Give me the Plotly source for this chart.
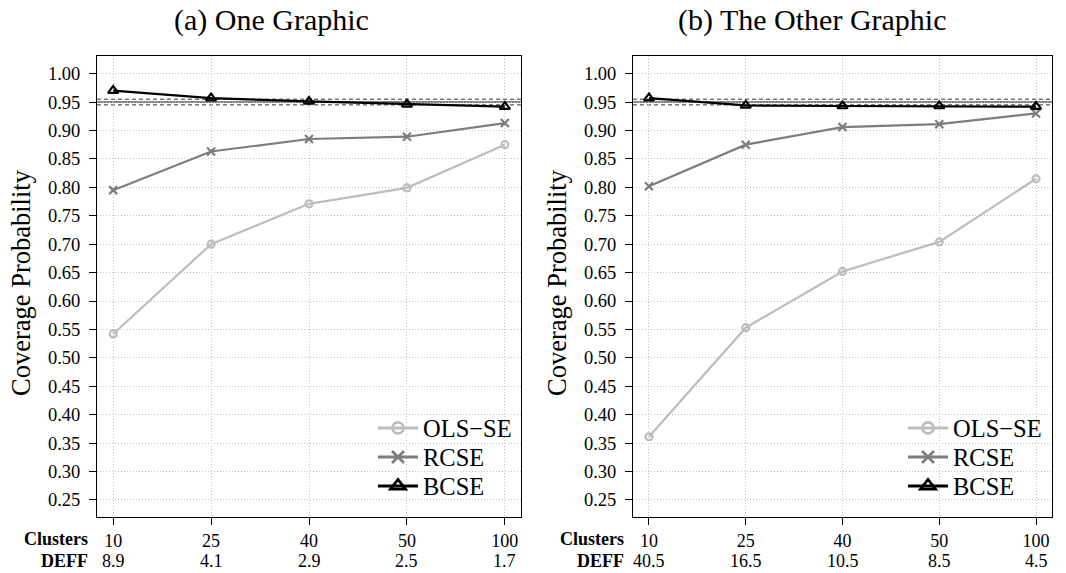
import plotly.graph_objects as go

# ---- data ----
clusters = ["10", "25", "40", "50", "100"]
deff_a = ["8.9", "4.1", "2.9", "2.5", "1.7"]
deff_b = ["40.5", "16.5", "10.5", "8.5", "4.5"]
ols_a = [0.542, 0.700, 0.771, 0.799, 0.875]
rcse_a = [0.795, 0.863, 0.885, 0.889, 0.913]
bcse_a = [0.970, 0.957, 0.951, 0.946, 0.942]
ols_b = [0.361, 0.553, 0.652, 0.704, 0.815]
rcse_b = [0.802, 0.875, 0.906, 0.911, 0.930]
bcse_b = [0.957, 0.944, 0.943, 0.943, 0.942]
nominal = 0.95
band = [0.945, 0.955]
series_names = ["OLS\u2212SE", "RCSE", "BCSE"]
panel_titles = ["(a) One Graphic", "(b) The Other Graphic"]
yticks = [0.25, 0.30, 0.35, 0.40, 0.45, 0.50, 0.55, 0.60, 0.65, 0.70,
          0.75, 0.80, 0.85, 0.90, 0.95, 1.00]
ytitle = "Coverage Probability"
row_labels = ["Clusters", "DEFF"]

# ---- styling ----
FW, FH = 1066, 573
FONT = "Liberation Serif"
colors = ["#bdbdbd", "#7d7d7d", "#000000"]
symbols = ["circle-open", "x-thin-open", "triangle-up-open"]
msizes = [7, 8, 9]
leg_msizes = [11, 12, 13]
leg_rows = [428, 457, 486]          # pixel rows of the legend entries


def px_x(p):
    return p / FW


def px_y(p):
    return 1 - p / FH


panels = [
    dict(data=[ols_a, rcse_a, bcse_a], deff=deff_a, xd=[97, 521], xs="x", ys="y",
         leg_left=373, title_x=271, ytitle_x=21),
    dict(data=[ols_b, rcse_b, bcse_b], deff=deff_b, xd=[633, 1052], xs="x2", ys="y2",
         leg_left=903, title_x=812, ytitle_x=557),
]

fig = go.Figure()
annotations = []
shapes = []
legend_layouts = {}
leg_counter = 0

for pi, p in enumerate(panels):
    for si in range(3):
        fig.add_trace(go.Scatter(
            x=clusters, y=p["data"][si], name=series_names[si],
            mode="lines+markers", xaxis=p["xs"], yaxis=p["ys"],
            showlegend=False,
            line=dict(color=colors[si], width=2.2),
            marker=dict(symbol=symbols[si], size=msizes[si], color=colors[si],
                        line=dict(color=colors[si], width=2.2)),
        ))
    # legend entries: one small legend per entry so rows can be spaced as in the reference
    for si in range(3):
        leg_counter += 1
        lid = "legend" if leg_counter == 1 else f"legend{leg_counter}"
        fig.add_trace(go.Scatter(
            x=[None], y=[None], name=series_names[si],
            mode="lines+markers", xaxis=p["xs"], yaxis=p["ys"],
            legend=lid, showlegend=True, hoverinfo="skip",
            line=dict(color=colors[si], width=3),
            marker=dict(symbol=symbols[si], size=leg_msizes[si], color=colors[si],
                        line=dict(color=colors[si], width=2.8)),
        ))
        legend_layouts[lid] = dict(x=px_x(p["leg_left"]), y=px_y(leg_rows[si]),
                                   xanchor="left", yanchor="middle",
                                   bgcolor="rgba(255,255,255,0)",
                                   font=dict(family=FONT, size=24.5, color="black"),
                                   itemwidth=40)
    # reference lines
    shapes.append(dict(type="line", xref=f"{p['xs']} domain", yref=p["ys"],
                       x0=0, x1=1, y0=nominal, y1=nominal,
                       line=dict(color="black", width=1), layer="below"))
    for b in band:
        shapes.append(dict(type="line", xref=f"{p['xs']} domain", yref=p["ys"],
                           x0=0, x1=1, y0=b, y1=b,
                           line=dict(color="#333333", width=1, dash="4px,3px"),
                           layer="below"))
    # panel title
    annotations.append(dict(text=panel_titles[pi], xref="paper", yref="paper",
                            x=px_x(p["title_x"]), y=px_y(20), xanchor="center",
                            yanchor="middle", showarrow=False,
                            font=dict(family=FONT, size=30, color="black")))
    # y title
    annotations.append(dict(text=ytitle, xref="paper", yref="paper",
                            x=px_x(p["ytitle_x"]), y=px_y(283), textangle=-90,
                            xanchor="center", yanchor="middle", showarrow=False,
                            font=dict(family=FONT, size=26.5, color="black")))
    # row labels
    for ri, lab in enumerate(row_labels):
        annotations.append(dict(text=f"<b>{lab}</b>", xref="paper", yref="paper",
                                x=px_x(p["xd"][0] - 7), y=px_y(539 + 22 * ri),
                                xanchor="right", yanchor="middle", showarrow=False,
                                font=dict(family=FONT, size=18, color="black")))
    # DEFF row (positioned on the category axis by index)
    for ci, d in enumerate(p["deff"]):
        annotations.append(dict(text=d, xref=p["xs"], yref="paper",
                                x=ci, y=px_y(561), xanchor="center", yanchor="middle",
                                showarrow=False,
                                font=dict(family=FONT, size=18, color="black")))

axis_common = dict(showline=True, linecolor="black", linewidth=1, mirror=True,
                   showgrid=True, gridcolor="#c4c4c4", griddash="1px,2px", gridwidth=1,
                   ticks="outside", ticklen=7, tickcolor="black", zeroline=False,
                   tickfont=dict(family=FONT, size=18.5, color="black"))

layout = dict(
    width=FW, height=FH, margin=dict(l=0, r=0, t=0, b=0),
    paper_bgcolor="white", plot_bgcolor="white",
    font=dict(family=FONT, color="black"),
    annotations=annotations, shapes=shapes,
)
layout.update(legend_layouts)
for pi, p in enumerate(panels):
    sfx = "" if pi == 0 else "2"
    layout[f"xaxis{sfx}"] = dict(axis_common, type="category",
                                 categoryorder="array", categoryarray=clusters,
                                 domain=[px_x(p["xd"][0]), px_x(p["xd"][1])],
                                 range=[-0.165, 4.165], anchor=f"y{sfx}",
                                 tickfont=dict(family=FONT, size=18, color="black"))
    layout[f"yaxis{sfx}"] = dict(axis_common, tickvals=yticks, tickformat=".2f",
                                 range=[0.22, 1.031], ticklabelstandoff=5,
                                 domain=[px_y(517), px_y(56)], anchor=f"x{sfx}")

fig.update_layout(**layout)
fig.write_html("out.html", config={"displayModeBar": False},
               post_script="document.body.style.margin='0';document.body.style.padding='0';")
